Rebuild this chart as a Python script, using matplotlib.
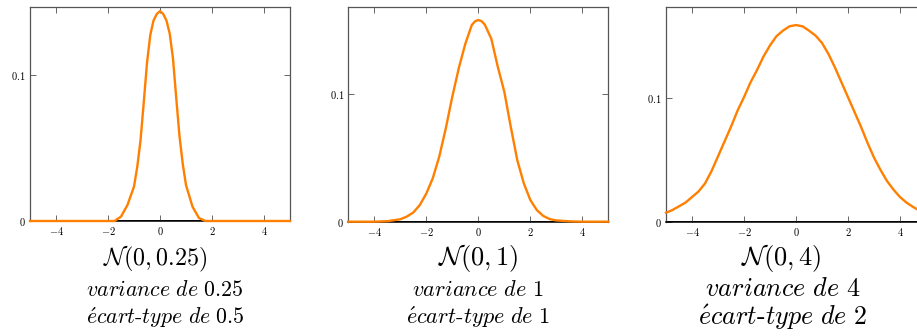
import numpy as np
import matplotlib
matplotlib.use("Agg")
import matplotlib.pyplot as plt

plt.rcParams['mathtext.fontset'] = 'cm'
plt.rcParams['font.family'] = 'serif'
plt.rcParams['font.serif'] = ['cmr10', 'DejaVu Serif']
plt.rcParams['axes.unicode_minus'] = False

# values
x1 = [-5, -2, -1.75, -1.5, -1.25, -1, -0.875, -0.75, -0.625, -0.5, -0.375, -0.25, -0.125, 0,
      0.125, 0.25, 0.375, 0.5, 0.625, 0.75, 0.875, 1, 1.25, 1.5, 1.75, 2, 5]
y1 = [0, 0, 0, 0.003, 0.011, 0.0235, 0.037, 0.055, 0.081, 0.108, 0.127, 0.137, 0.1415, 0.1435,
      0.1415, 0.137, 0.128, 0.111, 0.084, 0.058, 0.039, 0.0246, 0.0098, 0.002, 0, 0, 0]

x2 = [-5, -4, -3.5, -3, -2.75, -2.5, -2.25, -2, -1.75, -1.5, -1.25, -1, -0.75, -0.5, -0.25, -0.125, 0,
      0.125, 0.25, 0.5, 0.75, 1, 1.25, 1.5, 1.75, 2, 2.25, 2.5, 2.75, 3, 3.5, 4, 5]
y2 = [0, 0, 0.0004, 0.0019, 0.004, 0.0072, 0.013, 0.022, 0.034, 0.051, 0.073, 0.0977, 0.12, 0.139, 0.1537, 0.1566, 0.1576,
      0.1567, 0.154, 0.143, 0.121, 0.1016, 0.074, 0.048, 0.030, 0.017, 0.0091, 0.0045, 0.002, 0.001, 0.0003, 0, 0]

x3 = [-5, -4.75, -4.5, -4.25, -4, -3.75, -3.5, -3.25, -3, -2.75, -2.5, -2.25, -2, -1.75, -1.5, -1.25,
      -1, -0.75, -0.5, -0.25, 0, 0.25, 0.5, 0.75, 1, 1.25, 1.5, 1.75, 2, 2.25, 2.5, 2.75, 3, 3.25,
      3.5, 3.75, 4, 4.25, 4.5, 4.75, 5]
y3 = [0.0073, 0.0095, 0.0125, 0.0155, 0.020, 0.0245, 0.031, 0.041, 0.053, 0.065, 0.077, 0.090, 0.101, 0.113,
      0.123, 0.134, 0.143, 0.1505, 0.155, 0.1585, 0.1595, 0.1585, 0.155, 0.151, 0.145, 0.136, 0.125, 0.113,
      0.101, 0.089, 0.077, 0.064, 0.052, 0.042, 0.033, 0.026, 0.020, 0.0155, 0.012, 0.009, 0.007]

xticks = [-4, -2, 0, 2, 4]
yticks = [0, 0.1]
ytick_labels = ['$0$', '$0.1$']

titles = [r'$\mathcal{N}(0, 0.25)$', r'$\mathcal{N}(0, 1)$', r'$\mathcal{N}(0, 4)$']
line2 = [r'$\mathit{variance\ de}\ 0.25$', r'$\mathit{variance\ de}\ 1$', r'$\mathit{variance\ de}\ 4$']
line3 = [r'$\mathit{\acute{e}cart}$-$\mathit{type\ de}\ 0.5$',
         r'$\mathit{\acute{e}cart}$-$\mathit{type\ de\ 1}$',
         r'$\mathit{\acute{e}cart}$-$\mathit{type\ de\ 2}$']

W, H = 917, 336
fig = plt.figure(figsize=(W / 100, H / 100), dpi=100)

# axes boxes in pixels: left, top, bottom
boxes = [(30, 7, 221), (348.3, 6.7, 221.7), (666, 6.7, 221.7)]
ymaxs = [0.1463, 0.168, 0.1744]
xs = [x1, x2, x3]
ys = [y1, y2, y3]

# text centres (px) and sizes for each panel
title_cx = [155, 478, 781]
lines_cx = [165, 478, 783]
title_fs = [17.3, 19, 19]
lines_fs = [15.7, 16, 18.8]

for i in range(3):
    left, top, bot = boxes[i]
    ax = fig.add_axes([left / W, 1 - bot / H, 260 / W, (bot - top) / H])
    ax.axhline(0, color='k', lw=1.3, zorder=1)
    ax.plot(xs[i], ys[i], color='#ff7f00', lw=1.7, zorder=3, clip_on=False)
    ax.set_xlim(-5, 5)
    ax.set_ylim(0, ymaxs[i])
    ax.set_xticks(xticks)
    ax.set_xticklabels(['$%d$' % t for t in xticks])
    ax.set_yticks(yticks)
    ax.set_yticklabels(ytick_labels)
    ax.tick_params(direction='in', top=True, right=True, length=4, width=0.7,
                   color='#666666', labelsize=7.5, pad=3)
    for s in ['top', 'left', 'right']:
        ax.spines[s].set_color('#555555')
        ax.spines[s].set_linewidth(0.9)
    ax.spines['bottom'].set_color('k')
    ax.spines['bottom'].set_linewidth(1.1)

    fig.text(title_cx[i] / W, 1 - 265.5 / H, titles[i], ha='center', va='baseline', fontsize=title_fs[i])
    fig.text(lines_cx[i] / W, 1 - 296 / H, line2[i], ha='center', va='baseline', fontsize=lines_fs[i])
    fig.text(lines_cx[i] / W, 1 - 324.5 / H, line3[i], ha='center', va='baseline', fontsize=lines_fs[i])

fig.savefig('out.png', dpi=100)
